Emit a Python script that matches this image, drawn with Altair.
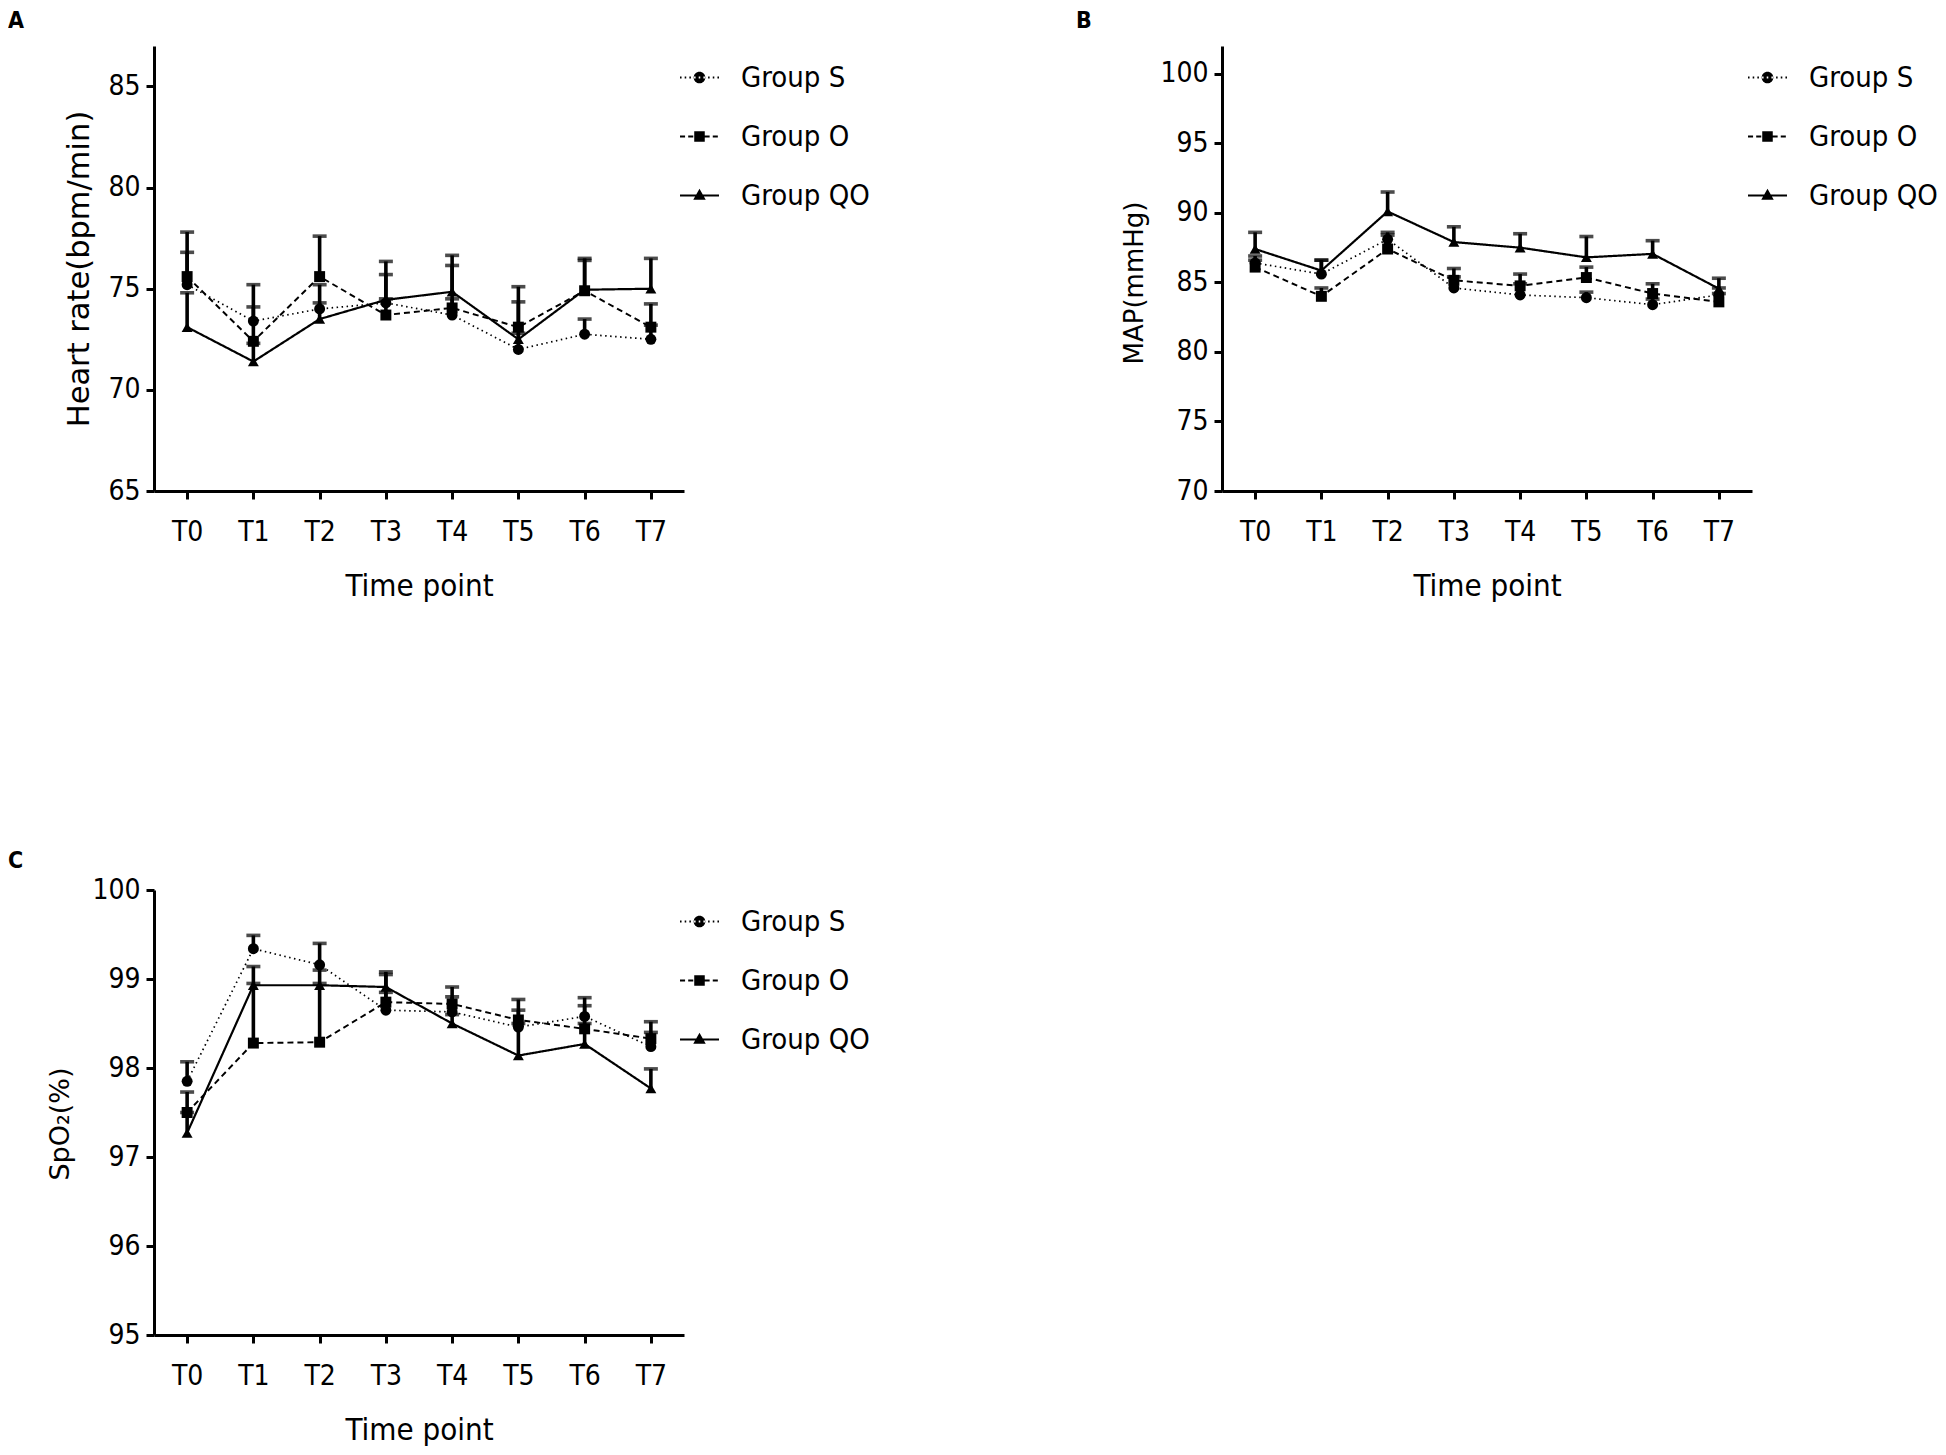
import altair as alt
import pandas as pd

times = ["T0", "T1", "T2", "T3", "T4", "T5", "T6", "T7"]
groups = ["Group S", "Group O", "Group QO"]

# Panel A: Heart rate (bpm/min) - mean and top of upward error bar
hr_s = [75.2, 73.4, 74.0, 74.3, 73.7, 72.0, 72.75, 72.5]
hr_o = [75.6, 72.4, 75.6, 73.7, 74.05, 73.1, 74.9, 73.1]
hr_qo = [73.1, 71.4, 73.5, 74.45, 74.85, 72.5, 74.95, 75.0]
hr_s_up = [76.8, 74.1, 75.2, 76.35, 74.5, 72.8, 73.5, 73.2]
hr_o_up = [77.8, 75.2, 77.6, 74.5, 76.15, 75.1, 76.5, 74.25]
hr_qo_up = [74.8, 72.3, 74.3, 75.7, 76.65, 74.35, 76.4, 76.5]

# Panel B: MAP (mmHg)
map_s = [86.4, 85.6, 88.1, 84.6, 84.1, 83.9, 83.4, 84.1]
map_o = [86.1, 84.0, 87.4, 85.15, 84.75, 85.35, 84.2, 83.6]
map_qo = [87.4, 85.85, 90.1, 87.9, 87.5, 86.8, 87.05, 84.55]
map_s_up = [86.9, 86.6, 88.6, 85.4, 84.9, 84.3, 83.8, 84.6]
map_o_up = [86.6, 84.6, 88.4, 86.0, 85.6, 86.1, 84.9, 84.2]
map_qo_up = [88.6, 86.6, 91.5, 89.0, 88.5, 88.3, 88.0, 85.3]

# Panel C: SpO2 (%)
spo_s = [97.85, 99.34, 99.16, 98.65, 98.63, 98.46, 98.58, 98.24]
spo_o = [97.5, 98.28, 98.29, 98.74, 98.72, 98.54, 98.44, 98.33]
spo_qo = [97.27, 98.93, 98.93, 98.91, 98.5, 98.14, 98.27, 97.77]
spo_s_up = [98.07, 99.49, 99.4, 98.85, 98.8, 98.65, 98.79, 98.4]
spo_o_up = [97.73, 98.95, 98.95, 99.05, 98.91, 98.77, 98.7, 98.52]
spo_qo_up = [97.5, 99.14, 99.1, 99.08, 98.6, 98.5, 98.5, 97.99]

NARROW = "Liberation Sans Narrow, Arial Narrow, DejaVu Sans Condensed, sans-serif"
WIDE = "DejaVu Sans, sans-serif"

W, H = 530, 445


def long_df(means, ups):
    rows = []
    for g, m, u in zip(groups, means, ups):
        for t, mv, uv in zip(times, m, u):
            rows.append({"time": t, "group": g, "mean": mv, "upper": uv})
    return pd.DataFrame(rows)


def seg_path(dash, gap, h=0.05):
    parts = []
    x = -1.0
    while x < 1.0:
        x2 = min(x + dash, 1.0)
        parts.append(f"M{x:.3f},{-h}L{x2:.3f},{-h}L{x2:.3f},{h}L{x:.3f},{h}Z")
        x += dash + gap
    return "".join(parts)


r = 0.3
circle = f"M{-r},0A{r},{r} 0 1,0 {r},0A{r},{r} 0 1,0 {-r},0Z"
s = 0.27
square = f"M{-s},{-s}L{s},{-s}L{s},{s}L{-s},{s}Z"
triangle = "M0,-0.34L0.32,0.22L-0.32,0.22Z"
legend_paths = [
    seg_path(0.08, 0.16, 0.045) + circle,
    seg_path(0.26, 0.16) + square,
    seg_path(2.0, 0.0) + triangle,
]


def panel(letter, means, ups, ytitle, tsize, tshift, tpad, toff, domain, ticks):
    df = long_df(means, ups)
    x = alt.X("time:N", sort=times, scale=alt.Scale(type="point", padding=0.5),
              axis=alt.Axis(title="Time point", labelAngle=0, labelFont=NARROW,
                            labelFontSize=28, titleFont=NARROW, titleFontSize=31,
                            titleFontWeight="normal", labelPadding=19, titlePadding=25))
    yscale = alt.Scale(domain=domain, nice=False, zero=False)
    yaxis = alt.Axis(title=ytitle, values=ticks, format="d", labelFont=NARROW, labelFontSize=28,
                     titleFont=WIDE, titleFontSize=tsize, titleFontWeight="normal",
                     labelPadding=6, titlePadding=tpad, titleY=H / 2 + tshift)
    base = alt.Chart(df)
    lines = base.mark_line(color="black").encode(
        x=x,
        y=alt.Y("mean:Q", scale=yscale, axis=yaxis),
        strokeDash=alt.StrokeDash("group:N", scale=alt.Scale(domain=groups, range=[[1.5, 3.5], [6, 4], [1, 0]]), legend=None),
        strokeWidth=alt.StrokeWidth("group:N", scale=alt.Scale(domain=groups, range=[1.7, 2.2, 2.2]), legend=None),
        detail="group:N",
    )
    bars = base.mark_rule(color="black", strokeWidth=3.6).encode(
        x=x, y=alt.Y("mean:Q", scale=yscale), y2="upper:Q"
    )
    caps = base.mark_tick(color="black", thickness=3.6, size=14).encode(
        x=x, y=alt.Y("upper:Q", scale=yscale)
    )
    pts = base.mark_point(filled=True, color="black", opacity=1, size=120).encode(
        x=x, y=alt.Y("mean:Q", scale=yscale),
        shape=alt.Shape("group:N", scale=alt.Scale(domain=groups, range=["circle", "square", "triangle-up"]), legend=None),
    )
    leg = base.mark_point(filled=True, color="black", opacity=0).encode(
        x=x, y=alt.Y("mean:Q", scale=yscale),
        shape=alt.Shape("group:N", scale=alt.Scale(domain=groups, range=legend_paths),
                        legend=alt.Legend(title=None, orient="none", legendX=525, legendY=11,
                                          symbolSize=1521, symbolOpacity=1, symbolFillColor="black",
                                          labelFont=NARROW, labelFontSize=29, labelColor="black",
                                          labelOffset=21, rowPadding=23)),
    )
    return alt.layer(lines, bars, caps, pts, leg).resolve_scale(shape="independent").properties(
        width=W, height=H,
        title=alt.TitleParams(letter, anchor="start", frame="group", fontSize=23, fontWeight="bold",
                              font=NARROW, dx=-146, offset=toff, color="black"),
    )


pa = panel("A", [hr_s, hr_o, hr_qo], [hr_s_up, hr_o_up, hr_qo_up], "Heart rate(bpm/min)", 30.5, 0, 13, 13, [65, 87], [65, 70, 75, 80, 85])
pb = panel("B", [map_s, map_o, map_qo], [map_s_up, map_o_up, map_qo_up], "MAP(mmHg)", 26, 14, 12, 13, [70, 102], [70, 75, 80, 85, 90, 95, 100])
pc = panel("C", [spo_s, spo_o, spo_qo], [spo_s_up, spo_o_up, spo_qo_up], "SpO₂(%)", 27, 11, 17, 3, [95, 100], [95, 96, 97, 98, 99, 100])

chart = alt.concat(pa, pb, pc, columns=2, spacing=alt.RowColnumber(row=399, column=538), bounds="flush").configure_view(
    stroke=None
).configure_axis(
    domainColor="black", domainWidth=3, tickColor="black", tickWidth=3, tickSize=8,
    labelColor="black", titleColor="black", grid=False
).properties(padding={"left": 0, "top": 2, "right": 0, "bottom": 5})

chart.save("out.html", embed_options={"renderer": "svg", "actions": False})
